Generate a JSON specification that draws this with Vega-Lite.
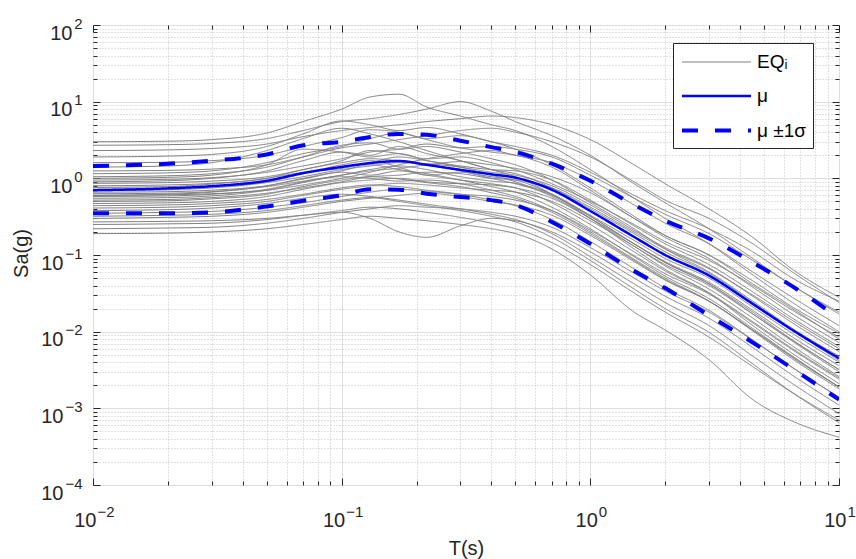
{
"$schema": "https://vega.github.io/schema/vega-lite/v6.json",
"width": 746, "height": 460,
"autosize": {"type": "none"},
"padding": {"left": 93, "top": 25, "right": 17, "bottom": 74},
"background": "white",
"config": {
  "view": {"stroke": "#262626", "strokeWidth": 1},
  "font": "Liberation Sans",
  "axis": {"domain": false, "labelFont": "Liberation Sans", "labelFontSize": 20, "labelColor": "#262626", "tickColor": "#262626", "titleFont": "Liberation Sans", "titleFontSize": 20, "titleFontWeight": "normal", "titleColor": "#262626", "labelFlush": false, "labelOverlap": false, "labelBound": false}
},
"datasets": {
"eq": [
{"c":1,"t":0.01,"v":3.0},{"c":1,"t":0.02,"v":3.05},{"c":1,"t":0.03,"v":3.2},{"c":1,"t":0.05,"v":3.9},{"c":1,"t":0.07,"v":5.5},{"c":1,"t":0.1,"v":8.0},{"c":1,"t":0.13,"v":11.5},{"c":1,"t":0.17,"v":12.5},{"c":1,"t":0.22,"v":8.5},{"c":1,"t":0.3,"v":6.5},{"c":1,"t":0.4,"v":5.0},{"c":1,"t":0.5,"v":4.2},{"c":1,"t":0.7,"v":2.6},{"c":1,"t":1,"v":1.3},{"c":1,"t":1.5,"v":0.55},{"c":1,"t":2,"v":0.30},{"c":1,"t":3,"v":0.14},{"c":1,"t":4.5,"v":0.055},{"c":1,"t":6.5,"v":0.024},{"c":1,"t":10,"v":0.010},
{"c":2,"t":0.01,"v":2.7},{"c":2,"t":0.02,"v":2.75},{"c":2,"t":0.03,"v":2.85},{"c":2,"t":0.05,"v":3.3},{"c":2,"t":0.07,"v":4.2},{"c":2,"t":0.1,"v":5.5},{"c":2,"t":0.13,"v":6.0},{"c":2,"t":0.17,"v":6.8},{"c":2,"t":0.22,"v":8.0},{"c":2,"t":0.3,"v":10.0},{"c":2,"t":0.4,"v":7.5},{"c":2,"t":0.5,"v":5.5},{"c":2,"t":0.7,"v":3.6},{"c":2,"t":1,"v":2.0},{"c":2,"t":1.5,"v":0.85},{"c":2,"t":2,"v":0.48},{"c":2,"t":3,"v":0.22},{"c":2,"t":4.5,"v":0.09},{"c":2,"t":6.5,"v":0.04},{"c":2,"t":10,"v":0.018},
{"c":3,"t":0.01,"v":2.3},{"c":3,"t":0.02,"v":2.35},{"c":3,"t":0.03,"v":2.45},{"c":3,"t":0.05,"v":2.8},{"c":3,"t":0.07,"v":3.5},{"c":3,"t":0.1,"v":4.2},{"c":3,"t":0.13,"v":4.6},{"c":3,"t":0.17,"v":5.0},{"c":3,"t":0.22,"v":5.5},{"c":3,"t":0.3,"v":6.0},{"c":3,"t":0.4,"v":6.5},{"c":3,"t":0.5,"v":6.2},{"c":3,"t":0.7,"v":5.0},{"c":3,"t":1,"v":3.2},{"c":3,"t":1.5,"v":1.5},{"c":3,"t":2,"v":0.85},{"c":3,"t":3,"v":0.40},{"c":3,"t":4.5,"v":0.17},{"c":3,"t":6.5,"v":0.065},{"c":3,"t":10,"v":0.028},
{"c":4,"t":0.01,"v":1.9},{"c":4,"t":0.02,"v":1.95},{"c":4,"t":0.03,"v":2.05},{"c":4,"t":0.05,"v":2.6},{"c":4,"t":0.07,"v":3.8},{"c":4,"t":0.1,"v":5.6},{"c":4,"t":0.13,"v":5.0},{"c":4,"t":0.17,"v":4.2},{"c":4,"t":0.22,"v":4.6},{"c":4,"t":0.3,"v":3.8},{"c":4,"t":0.4,"v":3.0},{"c":4,"t":0.5,"v":2.6},{"c":4,"t":0.7,"v":2.0},{"c":4,"t":1,"v":1.2},{"c":4,"t":1.5,"v":0.60},{"c":4,"t":2,"v":0.38},{"c":4,"t":3,"v":0.22},{"c":4,"t":4.5,"v":0.11},{"c":4,"t":6.5,"v":0.05},{"c":4,"t":10,"v":0.025},
{"c":5,"t":0.01,"v":1.6},{"c":5,"t":0.02,"v":1.62},{"c":5,"t":0.03,"v":1.7},{"c":5,"t":0.05,"v":2.0},{"c":5,"t":0.07,"v":2.6},{"c":5,"t":0.1,"v":3.4},{"c":5,"t":0.13,"v":4.3},{"c":5,"t":0.17,"v":4.0},{"c":5,"t":0.22,"v":3.3},{"c":5,"t":0.3,"v":3.6},{"c":5,"t":0.4,"v":3.0},{"c":5,"t":0.5,"v":2.4},{"c":5,"t":0.7,"v":1.5},{"c":5,"t":1,"v":0.75},{"c":5,"t":1.5,"v":0.32},{"c":5,"t":2,"v":0.18},{"c":5,"t":3,"v":0.10},{"c":5,"t":4.5,"v":0.042},{"c":5,"t":6.5,"v":0.02},{"c":5,"t":10,"v":0.008},
{"c":6,"t":0.01,"v":1.4},{"c":6,"t":0.02,"v":1.45},{"c":6,"t":0.03,"v":1.6},{"c":6,"t":0.05,"v":2.3},{"c":6,"t":0.07,"v":3.3},{"c":6,"t":0.1,"v":4.5},{"c":6,"t":0.13,"v":3.8},{"c":6,"t":0.17,"v":3.0},{"c":6,"t":0.22,"v":2.3},{"c":6,"t":0.3,"v":1.7},{"c":6,"t":0.4,"v":1.3},{"c":6,"t":0.5,"v":1.05},{"c":6,"t":0.7,"v":0.62},{"c":6,"t":1,"v":0.30},{"c":6,"t":1.5,"v":0.12},{"c":6,"t":2,"v":0.065},{"c":6,"t":3,"v":0.032},{"c":6,"t":4.5,"v":0.012},{"c":6,"t":6.5,"v":0.0052},{"c":6,"t":10,"v":0.0021},
{"c":7,"t":0.01,"v":1.25},{"c":7,"t":0.02,"v":1.27},{"c":7,"t":0.03,"v":1.32},{"c":7,"t":0.05,"v":1.5},{"c":7,"t":0.07,"v":1.9},{"c":7,"t":0.1,"v":2.5},{"c":7,"t":0.13,"v":2.8},{"c":7,"t":0.17,"v":3.2},{"c":7,"t":0.22,"v":3.6},{"c":7,"t":0.3,"v":4.2},{"c":7,"t":0.4,"v":4.5},{"c":7,"t":0.5,"v":4.0},{"c":7,"t":0.7,"v":3.0},{"c":7,"t":1,"v":1.9},{"c":7,"t":1.5,"v":0.9},{"c":7,"t":2,"v":0.52},{"c":7,"t":3,"v":0.30},{"c":7,"t":4.5,"v":0.14},{"c":7,"t":6.5,"v":0.06},{"c":7,"t":10,"v":0.024},
{"c":8,"t":0.01,"v":1.15},{"c":8,"t":0.02,"v":1.18},{"c":8,"t":0.03,"v":1.25},{"c":8,"t":0.05,"v":1.6},{"c":8,"t":0.07,"v":2.1},{"c":8,"t":0.1,"v":2.6},{"c":8,"t":0.13,"v":3.3},{"c":8,"t":0.17,"v":3.9},{"c":8,"t":0.22,"v":3.2},{"c":8,"t":0.3,"v":2.5},{"c":8,"t":0.4,"v":2.2},{"c":8,"t":0.5,"v":2.0},{"c":8,"t":0.7,"v":1.4},{"c":8,"t":1,"v":0.7},{"c":8,"t":1.5,"v":0.30},{"c":8,"t":2,"v":0.17},{"c":8,"t":3,"v":0.09},{"c":8,"t":4.5,"v":0.038},{"c":8,"t":6.5,"v":0.017},{"c":8,"t":10,"v":0.0072},
{"c":9,"t":0.01,"v":1.05},{"c":9,"t":0.02,"v":1.08},{"c":9,"t":0.03,"v":1.15},{"c":9,"t":0.05,"v":1.4},{"c":9,"t":0.07,"v":1.9},{"c":9,"t":0.1,"v":2.7},{"c":9,"t":0.13,"v":2.9},{"c":9,"t":0.17,"v":2.4},{"c":9,"t":0.22,"v":2.6},{"c":9,"t":0.3,"v":2.2},{"c":9,"t":0.4,"v":1.8},{"c":9,"t":0.5,"v":1.5},{"c":9,"t":0.7,"v":0.95},{"c":9,"t":1,"v":0.48},{"c":9,"t":1.5,"v":0.22},{"c":9,"t":2,"v":0.12},{"c":9,"t":3,"v":0.060},{"c":9,"t":4.5,"v":0.025},{"c":9,"t":6.5,"v":0.011},{"c":9,"t":10,"v":0.0048},
{"c":10,"t":0.01,"v":0.95},{"c":10,"t":0.02,"v":0.97},{"c":10,"t":0.03,"v":1.02},{"c":10,"t":0.05,"v":1.2},{"c":10,"t":0.07,"v":1.45},{"c":10,"t":0.1,"v":1.8},{"c":10,"t":0.13,"v":2.2},{"c":10,"t":0.17,"v":2.4},{"c":10,"t":0.22,"v":2.8},{"c":10,"t":0.3,"v":2.5},{"c":10,"t":0.4,"v":2.6},{"c":10,"t":0.5,"v":2.4},{"c":10,"t":0.7,"v":1.9},{"c":10,"t":1,"v":1.1},{"c":10,"t":1.5,"v":0.55},{"c":10,"t":2,"v":0.34},{"c":10,"t":3,"v":0.19},{"c":10,"t":4.5,"v":0.085},{"c":10,"t":6.5,"v":0.04},{"c":10,"t":10,"v":0.017},
{"c":11,"t":0.01,"v":0.9},{"c":11,"t":0.02,"v":0.93},{"c":11,"t":0.03,"v":1.0},{"c":11,"t":0.05,"v":1.25},{"c":11,"t":0.07,"v":1.7},{"c":11,"t":0.1,"v":2.2},{"c":11,"t":0.13,"v":2.0},{"c":11,"t":0.17,"v":2.6},{"c":11,"t":0.22,"v":2.1},{"c":11,"t":0.3,"v":1.7},{"c":11,"t":0.4,"v":1.3},{"c":11,"t":0.5,"v":1.15},{"c":11,"t":0.7,"v":0.75},{"c":11,"t":1,"v":0.40},{"c":11,"t":1.5,"v":0.19},{"c":11,"t":2,"v":0.11},{"c":11,"t":3,"v":0.058},{"c":11,"t":4.5,"v":0.024},{"c":11,"t":6.5,"v":0.0105},{"c":11,"t":10,"v":0.0042},
{"c":12,"t":0.01,"v":0.86},{"c":12,"t":0.02,"v":0.88},{"c":12,"t":0.03,"v":0.92},{"c":12,"t":0.05,"v":1.05},{"c":12,"t":0.07,"v":1.3},{"c":12,"t":0.1,"v":1.7},{"c":12,"t":0.13,"v":2.3},{"c":12,"t":0.17,"v":2.1},{"c":12,"t":0.22,"v":1.8},{"c":12,"t":0.3,"v":1.9},{"c":12,"t":0.4,"v":1.6},{"c":12,"t":0.5,"v":1.3},{"c":12,"t":0.7,"v":0.85},{"c":12,"t":1,"v":0.50},{"c":12,"t":1.5,"v":0.25},{"c":12,"t":2,"v":0.15},{"c":12,"t":3,"v":0.085},{"c":12,"t":4.5,"v":0.040},{"c":12,"t":6.5,"v":0.019},{"c":12,"t":10,"v":0.0085},
{"c":13,"t":0.01,"v":0.8},{"c":13,"t":0.02,"v":0.82},{"c":13,"t":0.03,"v":0.86},{"c":13,"t":0.05,"v":1.0},{"c":13,"t":0.07,"v":1.3},{"c":13,"t":0.1,"v":1.6},{"c":13,"t":0.13,"v":1.8},{"c":13,"t":0.17,"v":1.7},{"c":13,"t":0.22,"v":1.5},{"c":13,"t":0.3,"v":1.25},{"c":13,"t":0.4,"v":1.0},{"c":13,"t":0.5,"v":0.85},{"c":13,"t":0.7,"v":0.6},{"c":13,"t":1,"v":0.32},{"c":13,"t":1.5,"v":0.14},{"c":13,"t":2,"v":0.08},{"c":13,"t":3,"v":0.042},{"c":13,"t":4.5,"v":0.018},{"c":13,"t":6.5,"v":0.0078},{"c":13,"t":10,"v":0.0032},
{"c":14,"t":0.01,"v":0.76},{"c":14,"t":0.02,"v":0.78},{"c":14,"t":0.03,"v":0.84},{"c":14,"t":0.05,"v":1.0},{"c":14,"t":0.07,"v":1.2},{"c":14,"t":0.1,"v":1.35},{"c":14,"t":0.13,"v":1.6},{"c":14,"t":0.17,"v":1.9},{"c":14,"t":0.22,"v":1.7},{"c":14,"t":0.3,"v":1.45},{"c":14,"t":0.4,"v":1.3},{"c":14,"t":0.5,"v":1.25},{"c":14,"t":0.7,"v":0.95},{"c":14,"t":1,"v":0.52},{"c":14,"t":1.5,"v":0.24},{"c":14,"t":2,"v":0.14},{"c":14,"t":3,"v":0.075},{"c":14,"t":4.5,"v":0.033},{"c":14,"t":6.5,"v":0.015},{"c":14,"t":10,"v":0.0064},
{"c":15,"t":0.01,"v":0.72},{"c":15,"t":0.02,"v":0.74},{"c":15,"t":0.03,"v":0.78},{"c":15,"t":0.05,"v":0.9},{"c":15,"t":0.07,"v":1.15},{"c":15,"t":0.1,"v":1.5},{"c":15,"t":0.13,"v":1.7},{"c":15,"t":0.17,"v":1.4},{"c":15,"t":0.22,"v":1.1},{"c":15,"t":0.3,"v":1.2},{"c":15,"t":0.4,"v":1.05},{"c":15,"t":0.5,"v":0.95},{"c":15,"t":0.7,"v":0.62},{"c":15,"t":1,"v":0.32},{"c":15,"t":1.5,"v":0.14},{"c":15,"t":2,"v":0.08},{"c":15,"t":3,"v":0.042},{"c":15,"t":4.5,"v":0.017},{"c":15,"t":6.5,"v":0.0075},{"c":15,"t":10,"v":0.003},
{"c":16,"t":0.01,"v":0.69},{"c":16,"t":0.02,"v":0.71},{"c":16,"t":0.03,"v":0.75},{"c":16,"t":0.05,"v":0.88},{"c":16,"t":0.07,"v":1.05},{"c":16,"t":0.1,"v":1.3},{"c":16,"t":0.13,"v":1.45},{"c":16,"t":0.17,"v":1.6},{"c":16,"t":0.22,"v":1.55},{"c":16,"t":0.3,"v":1.4},{"c":16,"t":0.4,"v":1.2},{"c":16,"t":0.5,"v":1.1},{"c":16,"t":0.7,"v":0.80},{"c":16,"t":1,"v":0.45},{"c":16,"t":1.5,"v":0.21},{"c":16,"t":2,"v":0.125},{"c":16,"t":3,"v":0.068},{"c":16,"t":4.5,"v":0.029},{"c":16,"t":6.5,"v":0.013},{"c":16,"t":10,"v":0.0055},
{"c":17,"t":0.01,"v":0.66},{"c":17,"t":0.02,"v":0.67},{"c":17,"t":0.03,"v":0.70},{"c":17,"t":0.05,"v":0.80},{"c":17,"t":0.07,"v":0.98},{"c":17,"t":0.1,"v":1.25},{"c":17,"t":0.13,"v":1.5},{"c":17,"t":0.17,"v":1.3},{"c":17,"t":0.22,"v":1.15},{"c":17,"t":0.3,"v":0.95},{"c":17,"t":0.4,"v":0.78},{"c":17,"t":0.5,"v":0.66},{"c":17,"t":0.7,"v":0.42},{"c":17,"t":1,"v":0.22},{"c":17,"t":1.5,"v":0.095},{"c":17,"t":2,"v":0.053},{"c":17,"t":3,"v":0.027},{"c":17,"t":4.5,"v":0.011},{"c":17,"t":6.5,"v":0.0048},{"c":17,"t":10,"v":0.0019},
{"c":18,"t":0.01,"v":0.63},{"c":18,"t":0.02,"v":0.64},{"c":18,"t":0.03,"v":0.67},{"c":18,"t":0.05,"v":0.78},{"c":18,"t":0.07,"v":0.92},{"c":18,"t":0.1,"v":1.1},{"c":18,"t":0.13,"v":1.25},{"c":18,"t":0.17,"v":1.35},{"c":18,"t":0.22,"v":1.5},{"c":18,"t":0.3,"v":1.65},{"c":18,"t":0.4,"v":1.5},{"c":18,"t":0.5,"v":1.35},{"c":18,"t":0.7,"v":1.05},{"c":18,"t":1,"v":0.65},{"c":18,"t":1.5,"v":0.30},{"c":18,"t":2,"v":0.18},{"c":18,"t":3,"v":0.10},{"c":18,"t":4.5,"v":0.046},{"c":18,"t":6.5,"v":0.021},{"c":18,"t":10,"v":0.0095},
{"c":19,"t":0.01,"v":0.6},{"c":19,"t":0.02,"v":0.62},{"c":19,"t":0.03,"v":0.66},{"c":19,"t":0.05,"v":0.8},{"c":19,"t":0.07,"v":1.0},{"c":19,"t":0.1,"v":1.2},{"c":19,"t":0.13,"v":1.1},{"c":19,"t":0.17,"v":1.25},{"c":19,"t":0.22,"v":1.1},{"c":19,"t":0.3,"v":0.95},{"c":19,"t":0.4,"v":0.85},{"c":19,"t":0.5,"v":0.75},{"c":19,"t":0.7,"v":0.48},{"c":19,"t":1,"v":0.25},{"c":19,"t":1.5,"v":0.11},{"c":19,"t":2,"v":0.062},{"c":19,"t":3,"v":0.032},{"c":19,"t":4.5,"v":0.0135},{"c":19,"t":6.5,"v":0.006},{"c":19,"t":10,"v":0.0025},
{"c":20,"t":0.01,"v":0.58},{"c":20,"t":0.02,"v":0.59},{"c":20,"t":0.03,"v":0.62},{"c":20,"t":0.05,"v":0.72},{"c":20,"t":0.07,"v":0.90},{"c":20,"t":0.1,"v":1.1},{"c":20,"t":0.13,"v":1.3},{"c":20,"t":0.17,"v":1.45},{"c":20,"t":0.22,"v":1.3},{"c":20,"t":0.3,"v":1.05},{"c":20,"t":0.4,"v":0.92},{"c":20,"t":0.5,"v":0.86},{"c":20,"t":0.7,"v":0.62},{"c":20,"t":1,"v":0.33},{"c":20,"t":1.5,"v":0.155},{"c":20,"t":2,"v":0.09},{"c":20,"t":3,"v":0.05},{"c":20,"t":4.5,"v":0.021},{"c":20,"t":6.5,"v":0.0095},{"c":20,"t":10,"v":0.004},
{"c":21,"t":0.01,"v":0.55},{"c":21,"t":0.02,"v":0.56},{"c":21,"t":0.03,"v":0.59},{"c":21,"t":0.05,"v":0.7},{"c":21,"t":0.07,"v":0.88},{"c":21,"t":0.1,"v":1.05},{"c":21,"t":0.13,"v":1.0},{"c":21,"t":0.17,"v":0.92},{"c":21,"t":0.22,"v":0.95},{"c":21,"t":0.3,"v":0.85},{"c":21,"t":0.4,"v":0.70},{"c":21,"t":0.5,"v":0.58},{"c":21,"t":0.7,"v":0.38},{"c":21,"t":1,"v":0.2},{"c":21,"t":1.5,"v":0.088},{"c":21,"t":2,"v":0.05},{"c":21,"t":3,"v":0.025},{"c":21,"t":4.5,"v":0.0102},{"c":21,"t":6.5,"v":0.0044},{"c":21,"t":10,"v":0.0018},
{"c":22,"t":0.01,"v":0.52},{"c":22,"t":0.02,"v":0.53},{"c":22,"t":0.03,"v":0.56},{"c":22,"t":0.05,"v":0.64},{"c":22,"t":0.07,"v":0.75},{"c":22,"t":0.1,"v":0.90},{"c":22,"t":0.13,"v":1.05},{"c":22,"t":0.17,"v":1.1},{"c":22,"t":0.22,"v":1.2},{"c":22,"t":0.3,"v":1.15},{"c":22,"t":0.4,"v":1.0},{"c":22,"t":0.5,"v":0.95},{"c":22,"t":0.7,"v":0.75},{"c":22,"t":1,"v":0.42},{"c":22,"t":1.5,"v":0.20},{"c":22,"t":2,"v":0.12},{"c":22,"t":3,"v":0.066},{"c":22,"t":4.5,"v":0.030},{"c":22,"t":6.5,"v":0.014},{"c":22,"t":10,"v":0.006},
{"c":23,"t":0.01,"v":0.5},{"c":23,"t":0.02,"v":0.51},{"c":23,"t":0.03,"v":0.54},{"c":23,"t":0.05,"v":0.62},{"c":23,"t":0.07,"v":0.78},{"c":23,"t":0.1,"v":0.95},{"c":23,"t":0.13,"v":1.05},{"c":23,"t":0.17,"v":0.98},{"c":23,"t":0.22,"v":0.88},{"c":23,"t":0.3,"v":0.78},{"c":23,"t":0.4,"v":0.65},{"c":23,"t":0.5,"v":0.55},{"c":23,"t":0.7,"v":0.36},{"c":23,"t":1,"v":0.19},{"c":23,"t":1.5,"v":0.085},{"c":23,"t":2,"v":0.048},{"c":23,"t":3,"v":0.025},{"c":23,"t":4.5,"v":0.0105},{"c":23,"t":6.5,"v":0.0046},{"c":23,"t":10,"v":0.0019},
{"c":24,"t":0.01,"v":0.47},{"c":24,"t":0.02,"v":0.48},{"c":24,"t":0.03,"v":0.50},{"c":24,"t":0.05,"v":0.58},{"c":24,"t":0.07,"v":0.72},{"c":24,"t":0.1,"v":0.88},{"c":24,"t":0.13,"v":0.95},{"c":24,"t":0.17,"v":1.0},{"c":24,"t":0.22,"v":0.90},{"c":24,"t":0.3,"v":0.85},{"c":24,"t":0.4,"v":0.82},{"c":24,"t":0.5,"v":0.75},{"c":24,"t":0.7,"v":0.55},{"c":24,"t":1,"v":0.30},{"c":24,"t":1.5,"v":0.14},{"c":24,"t":2,"v":0.082},{"c":24,"t":3,"v":0.044},{"c":24,"t":4.5,"v":0.019},{"c":24,"t":6.5,"v":0.0085},{"c":24,"t":10,"v":0.0036},
{"c":25,"t":0.01,"v":0.44},{"c":25,"t":0.02,"v":0.45},{"c":25,"t":0.03,"v":0.47},{"c":25,"t":0.05,"v":0.53},{"c":25,"t":0.07,"v":0.62},{"c":25,"t":0.1,"v":0.75},{"c":25,"t":0.13,"v":0.82},{"c":25,"t":0.17,"v":0.78},{"c":25,"t":0.22,"v":0.70},{"c":25,"t":0.3,"v":0.62},{"c":25,"t":0.4,"v":0.52},{"c":25,"t":0.5,"v":0.44},{"c":25,"t":0.7,"v":0.29},{"c":25,"t":1,"v":0.15},{"c":25,"t":1.5,"v":0.066},{"c":25,"t":2,"v":0.037},{"c":25,"t":3,"v":0.019},{"c":25,"t":4.5,"v":0.0078},{"c":25,"t":6.5,"v":0.0034},{"c":25,"t":10,"v":0.0014},
{"c":26,"t":0.01,"v":0.41},{"c":26,"t":0.02,"v":0.42},{"c":26,"t":0.03,"v":0.44},{"c":26,"t":0.05,"v":0.50},{"c":26,"t":0.07,"v":0.60},{"c":26,"t":0.1,"v":0.72},{"c":26,"t":0.13,"v":0.80},{"c":26,"t":0.17,"v":0.86},{"c":26,"t":0.22,"v":0.82},{"c":26,"t":0.3,"v":0.75},{"c":26,"t":0.4,"v":0.70},{"c":26,"t":0.5,"v":0.66},{"c":26,"t":0.7,"v":0.50},{"c":26,"t":1,"v":0.28},{"c":26,"t":1.5,"v":0.13},{"c":26,"t":2,"v":0.075},{"c":26,"t":3,"v":0.040},{"c":26,"t":4.5,"v":0.017},{"c":26,"t":6.5,"v":0.0077},{"c":26,"t":10,"v":0.0032},
{"c":27,"t":0.01,"v":0.38},{"c":27,"t":0.02,"v":0.39},{"c":27,"t":0.03,"v":0.41},{"c":27,"t":0.05,"v":0.47},{"c":27,"t":0.07,"v":0.55},{"c":27,"t":0.1,"v":0.62},{"c":27,"t":0.13,"v":0.58},{"c":27,"t":0.17,"v":0.52},{"c":27,"t":0.22,"v":0.46},{"c":27,"t":0.3,"v":0.40},{"c":27,"t":0.4,"v":0.34},{"c":27,"t":0.5,"v":0.29},{"c":27,"t":0.7,"v":0.19},{"c":27,"t":1,"v":0.095},{"c":27,"t":1.5,"v":0.042},{"c":27,"t":2,"v":0.024},{"c":27,"t":3,"v":0.012},{"c":27,"t":4.5,"v":0.0048},{"c":27,"t":6.5,"v":0.0021},{"c":27,"t":10,"v":0.00085},
{"c":28,"t":0.01,"v":0.35},{"c":28,"t":0.02,"v":0.36},{"c":28,"t":0.03,"v":0.37},{"c":28,"t":0.05,"v":0.42},{"c":28,"t":0.07,"v":0.48},{"c":28,"t":0.1,"v":0.58},{"c":28,"t":0.13,"v":0.66},{"c":28,"t":0.17,"v":0.72},{"c":28,"t":0.22,"v":0.68},{"c":28,"t":0.3,"v":0.62},{"c":28,"t":0.4,"v":0.58},{"c":28,"t":0.5,"v":0.52},{"c":28,"t":0.7,"v":0.38},{"c":28,"t":1,"v":0.21},{"c":28,"t":1.5,"v":0.098},{"c":28,"t":2,"v":0.057},{"c":28,"t":3,"v":0.031},{"c":28,"t":4.5,"v":0.013},{"c":28,"t":6.5,"v":0.0058},{"c":28,"t":10,"v":0.0024},
{"c":29,"t":0.01,"v":0.32},{"c":29,"t":0.02,"v":0.33},{"c":29,"t":0.03,"v":0.34},{"c":29,"t":0.05,"v":0.38},{"c":29,"t":0.07,"v":0.44},{"c":29,"t":0.1,"v":0.52},{"c":29,"t":0.13,"v":0.56},{"c":29,"t":0.17,"v":0.50},{"c":29,"t":0.22,"v":0.44},{"c":29,"t":0.3,"v":0.38},{"c":29,"t":0.4,"v":0.32},{"c":29,"t":0.5,"v":0.27},{"c":29,"t":0.7,"v":0.17},{"c":29,"t":1,"v":0.085},{"c":29,"t":1.5,"v":0.036},{"c":29,"t":2,"v":0.020},{"c":29,"t":3,"v":0.0098},{"c":29,"t":4.5,"v":0.0038},{"c":29,"t":6.5,"v":0.0016},{"c":29,"t":10,"v":0.00065},
{"c":30,"t":0.01,"v":0.30},{"c":30,"t":0.02,"v":0.31},{"c":30,"t":0.03,"v":0.32},{"c":30,"t":0.05,"v":0.36},{"c":30,"t":0.07,"v":0.42},{"c":30,"t":0.1,"v":0.50},{"c":30,"t":0.13,"v":0.55},{"c":30,"t":0.17,"v":0.60},{"c":30,"t":0.22,"v":0.64},{"c":30,"t":0.3,"v":0.58},{"c":30,"t":0.4,"v":0.50},{"c":30,"t":0.5,"v":0.45},{"c":30,"t":0.7,"v":0.33},{"c":30,"t":1,"v":0.18},{"c":30,"t":1.5,"v":0.082},{"c":30,"t":2,"v":0.047},{"c":30,"t":3,"v":0.025},{"c":30,"t":4.5,"v":0.0105},{"c":30,"t":6.5,"v":0.0047},{"c":30,"t":10,"v":0.0019},
{"c":31,"t":0.01,"v":0.27},{"c":31,"t":0.02,"v":0.275},{"c":31,"t":0.03,"v":0.28},{"c":31,"t":0.05,"v":0.30},{"c":31,"t":0.07,"v":0.33},{"c":31,"t":0.1,"v":0.36},{"c":31,"t":0.13,"v":0.30},{"c":31,"t":0.17,"v":0.20},{"c":31,"t":0.22,"v":0.17},{"c":31,"t":0.3,"v":0.24},{"c":31,"t":0.4,"v":0.30},{"c":31,"t":0.5,"v":0.28},{"c":31,"t":0.7,"v":0.20},{"c":31,"t":1,"v":0.11},{"c":31,"t":1.5,"v":0.050},{"c":31,"t":2,"v":0.029},{"c":31,"t":3,"v":0.015},{"c":31,"t":4.5,"v":0.0062},{"c":31,"t":6.5,"v":0.0027},{"c":31,"t":10,"v":0.0011},
{"c":32,"t":0.01,"v":0.25},{"c":32,"t":0.02,"v":0.255},{"c":32,"t":0.03,"v":0.26},{"c":32,"t":0.05,"v":0.29},{"c":32,"t":0.07,"v":0.33},{"c":32,"t":0.1,"v":0.38},{"c":32,"t":0.13,"v":0.42},{"c":32,"t":0.17,"v":0.40},{"c":32,"t":0.22,"v":0.36},{"c":32,"t":0.3,"v":0.31},{"c":32,"t":0.4,"v":0.26},{"c":32,"t":0.5,"v":0.22},{"c":32,"t":0.7,"v":0.145},{"c":32,"t":1,"v":0.075},{"c":32,"t":1.5,"v":0.032},{"c":32,"t":2,"v":0.018},{"c":32,"t":3,"v":0.0085},{"c":32,"t":4.5,"v":0.0035},{"c":32,"t":6.5,"v":0.0016},{"c":32,"t":10,"v":0.0007},
{"c":33,"t":0.01,"v":0.22},{"c":33,"t":0.02,"v":0.225},{"c":33,"t":0.03,"v":0.23},{"c":33,"t":0.05,"v":0.26},{"c":33,"t":0.07,"v":0.30},{"c":33,"t":0.1,"v":0.36},{"c":33,"t":0.13,"v":0.40},{"c":33,"t":0.17,"v":0.44},{"c":33,"t":0.22,"v":0.42},{"c":33,"t":0.3,"v":0.40},{"c":33,"t":0.4,"v":0.36},{"c":33,"t":0.5,"v":0.32},{"c":33,"t":0.7,"v":0.23},{"c":33,"t":1,"v":0.125},{"c":33,"t":1.5,"v":0.058},{"c":33,"t":2,"v":0.034},{"c":33,"t":3,"v":0.018},{"c":33,"t":4.5,"v":0.0077},{"c":33,"t":6.5,"v":0.0034},{"c":33,"t":10,"v":0.0014},
{"c":34,"t":0.01,"v":0.19},{"c":34,"t":0.02,"v":0.193},{"c":34,"t":0.03,"v":0.20},{"c":34,"t":0.05,"v":0.22},{"c":34,"t":0.07,"v":0.25},{"c":34,"t":0.1,"v":0.29},{"c":34,"t":0.13,"v":0.32},{"c":34,"t":0.17,"v":0.30},{"c":34,"t":0.22,"v":0.28},{"c":34,"t":0.3,"v":0.25},{"c":34,"t":0.4,"v":0.22},{"c":34,"t":0.5,"v":0.19},{"c":34,"t":0.7,"v":0.12},{"c":34,"t":1,"v":0.055},{"c":34,"t":1.5,"v":0.018},{"c":34,"t":2,"v":0.0105},{"c":34,"t":3,"v":0.0043},{"c":34,"t":4.5,"v":0.0013},{"c":34,"t":6.5,"v":0.00068},{"c":34,"t":10,"v":0.00042},
{"c":35,"t":0.01,"v":1.0},{"c":35,"t":0.02,"v":1.03},{"c":35,"t":0.03,"v":1.1},{"c":35,"t":0.05,"v":1.5},{"c":35,"t":0.07,"v":2.4},{"c":35,"t":0.1,"v":2.2},{"c":35,"t":0.13,"v":1.9},{"c":35,"t":0.17,"v":2.1},{"c":35,"t":0.22,"v":1.7},{"c":35,"t":0.3,"v":1.4},{"c":35,"t":0.4,"v":1.1},{"c":35,"t":0.5,"v":0.9},{"c":35,"t":0.7,"v":0.58},{"c":35,"t":1,"v":0.30},{"c":35,"t":1.5,"v":0.13},{"c":35,"t":2,"v":0.072},{"c":35,"t":3,"v":0.036},{"c":35,"t":4.5,"v":0.015},{"c":35,"t":6.5,"v":0.0065},{"c":35,"t":10,"v":0.0026},
{"c":36,"t":0.01,"v":0.6},{"c":36,"t":0.02,"v":0.61},{"c":36,"t":0.03,"v":0.63},{"c":36,"t":0.05,"v":0.7},{"c":36,"t":0.07,"v":0.82},{"c":36,"t":0.1,"v":1.0},{"c":36,"t":0.13,"v":1.2},{"c":36,"t":0.17,"v":1.5},{"c":36,"t":0.22,"v":1.8},{"c":36,"t":0.3,"v":2.1},{"c":36,"t":0.4,"v":2.3},{"c":36,"t":0.5,"v":2.0},{"c":36,"t":0.7,"v":1.6},{"c":36,"t":1,"v":0.95},{"c":36,"t":1.5,"v":0.45},{"c":36,"t":2,"v":0.26},{"c":36,"t":3,"v":0.14},{"c":36,"t":4.5,"v":0.06},{"c":36,"t":6.5,"v":0.028},{"c":36,"t":10,"v":0.012}
],
"mu": [
{"t":0.01,"v":0.70},{"t":0.02,"v":0.74},{"t":0.03,"v":0.79},{"t":0.05,"v":0.93},{"t":0.07,"v":1.17},{"t":0.1,"v":1.41},{"t":0.13,"v":1.58},{"t":0.17,"v":1.68},{"t":0.22,"v":1.50},{"t":0.3,"v":1.29},{"t":0.4,"v":1.13},{"t":0.5,"v":1.02},{"t":0.7,"v":0.71},{"t":1,"v":0.375},{"t":1.5,"v":0.172},{"t":2,"v":0.10},{"t":3,"v":0.054},{"t":4.5,"v":0.023},{"t":6.5,"v":0.0105},{"t":10,"v":0.0045}
],
"up": [
{"t":0.01,"v":1.45},{"t":0.02,"v":1.55},{"t":0.03,"v":1.7},{"t":0.05,"v":2.05},{"t":0.07,"v":2.7},{"t":0.1,"v":3.0},{"t":0.13,"v":3.45},{"t":0.17,"v":3.8},{"t":0.22,"v":3.7},{"t":0.3,"v":3.1},{"t":0.4,"v":2.55},{"t":0.5,"v":2.2},{"t":0.7,"v":1.55},{"t":1,"v":0.93},{"t":1.5,"v":0.45},{"t":2,"v":0.28},{"t":3,"v":0.165},{"t":4.5,"v":0.08},{"t":6.5,"v":0.039},{"t":10,"v":0.015}
],
"lo": [
{"t":0.01,"v":0.35},{"t":0.02,"v":0.35},{"t":0.03,"v":0.36},{"t":0.05,"v":0.43},{"t":0.07,"v":0.51},{"t":0.1,"v":0.60},{"t":0.13,"v":0.72},{"t":0.17,"v":0.71},{"t":0.22,"v":0.63},{"t":0.3,"v":0.57},{"t":0.4,"v":0.52},{"t":0.5,"v":0.45},{"t":0.7,"v":0.27},{"t":1,"v":0.14},{"t":1.5,"v":0.062},{"t":2,"v":0.037},{"t":3,"v":0.0163},{"t":4.5,"v":0.0072},{"t":6.5,"v":0.0033},{"t":10,"v":0.0013}
]
},
"layer": [
{
  "data": {"name": "eq"},
  "transform": [{"filter": "datum.c <= 18"}],
  "mark": {"type": "line", "interpolate": "monotone", "clip": true},
  "encoding": {
    "x": {"field": "t", "type": "quantitative", "scale": {"type": "log", "domain": [0.01, 10], "nice": false},
      "axis": {"orient": "bottom", "values": [0.01, 0.1, 1, 10], "grid": true, "gridColor": "#dedede", "gridWidth": 1, "tickSize": -7, "labelExpr": "'10'", "labelAlign": "right", "labelBaseline": "alphabetic", "labelPadding": 48, "labelOffset": {"condition": {"test": "datum.value < 1", "value": 3}, "value": 7}, "labelFontSize": 20, "title": "T(s)", "titleX": 373, "titleY": 69, "titleBaseline": "alphabetic", "titleAnchor": null}},
    "y": {"field": "v", "type": "quantitative", "scale": {"type": "log", "domain": [0.0001, 100], "nice": false},
      "axis": {"orient": "left", "values": [0.0001, 0.001, 0.01, 0.1, 1, 10, 100], "grid": true, "gridColor": "#dedede", "gridWidth": 1, "tickSize": -7, "labelExpr": "'10'", "labelAlign": "right", "labelBaseline": "alphabetic", "labelPadding": {"condition": {"test": "datum.value < 1", "value": 37}, "value": 28}, "labelOffset": 14, "labelFontSize": 20, "title": "Sa(g)", "titleX": -66, "titleY": 228, "titleBaseline": "alphabetic", "titleAngle": -90}},
    "detail": {"field": "c", "type": "nominal"},
    "color": {"datum": "EQᵢ", "type": "nominal", "scale": {"domain": ["EQᵢ", "μ", "μ ±1σ"], "range": ["#808080", "#0000ff", "#0000ff"]},
      "legend": {"orient": "none", "legendX": 580, "legendY": 18, "title": null, "symbolType": "M-3,0H3", "symbolSize": 529, "symbolOffset": 23, "labelOffset": 27, "labelFontSize": 19, "labelFont": "Liberation Sans", "labelColor": "#000000", "rowPadding": 11, "padding": 7, "strokeColor": "#262626", "fillColor": "#ffffff", "cornerRadius": 0}},
    "strokeDash": {"datum": "EQᵢ", "type": "nominal", "scale": {"domain": ["EQᵢ", "μ", "μ ±1σ"], "range": [[1, 0], [1, 0], [16, 17]]}, "legend": {"orient": "none", "legendX": 580, "legendY": 18, "title": null}},
    "strokeWidth": {"datum": "EQᵢ", "type": "nominal", "scale": {"domain": ["EQᵢ", "μ", "μ ±1σ"], "range": [1, 4, 4]}, "legend": {"orient": "none", "legendX": 580, "legendY": 18, "title": null}}
  }
},
{
  "data": {"name": "eq"},
  "transform": [{"filter": "datum.c > 18"}],
  "mark": {"type": "line", "interpolate": "monotone", "clip": true},
  "encoding": {
    "x": {"field": "t", "type": "quantitative",
      "axis": {"orient": "bottom", "values": [0.01, 0.1, 1, 10], "grid": false, "ticks": false, "labelExpr": "replace(toString(round(log(datum.value)/LN10)), '-', '\u2212')", "labelAlign": "left", "labelBaseline": "alphabetic", "labelPadding": 31, "labelOffset": {"condition": {"test": "datum.value < 1", "value": 4}, "value": 8}, "labelFontSize": 15, "title": null}},
    "y": {"field": "v", "type": "quantitative",
      "axis": {"orient": "left", "values": [0.0001, 0.001, 0.01, 0.1, 1, 10, 100], "grid": false, "ticks": false, "labelExpr": "replace(toString(round(log(datum.value)/LN10)), '-', '\u2212')", "labelAlign": "right", "labelBaseline": "alphabetic", "labelPadding": 11, "labelOffset": 3, "labelFontSize": 15, "title": null}},
    "detail": {"field": "c", "type": "nominal"},
    "color": {"datum": "EQᵢ", "type": "nominal"},
    "strokeDash": {"datum": "EQᵢ", "type": "nominal"},
    "strokeWidth": {"datum": "EQᵢ", "type": "nominal"}
  }
},
{
  "data": {"name": "mu"},
  "mark": {"type": "line", "interpolate": "monotone", "clip": true},
  "encoding": {
    "x": {"field": "t", "type": "quantitative", "axis": {"orient": "bottom", "values": [0.02,0.03,0.04,0.05,0.06,0.07,0.08,0.09,0.2,0.3,0.4,0.5,0.6,0.7,0.8,0.9,2,3,4,5,6,7,8,9], "labels": false, "grid": true, "gridDash": [1, 2], "gridColor": "#c4c4c4", "tickSize": -4, "title": null}},
    "y": {"field": "v", "type": "quantitative", "axis": {"orient": "left", "values": [0.0002,0.0003,0.0004,0.0005,0.0006,0.0007,0.0008,0.0009,0.002,0.003,0.004,0.005,0.006,0.007,0.008,0.009,0.02,0.03,0.04,0.05,0.06,0.07,0.08,0.09,0.2,0.3,0.4,0.5,0.6,0.7,0.8,0.9,2,3,4,5,6,7,8,9,20,30,40,50,60,70,80,90], "labels": false, "grid": true, "gridDash": [1, 2], "gridColor": "#c4c4c4", "tickSize": -4, "title": null}},
    "color": {"datum": "μ", "type": "nominal"},
    "strokeDash": {"datum": "μ", "type": "nominal"},
    "strokeWidth": {"datum": "μ", "type": "nominal"}
  }
},
{
  "data": {"name": "up"},
  "mark": {"type": "line", "interpolate": "monotone", "clip": true, "strokeCap": "butt"},
  "encoding": {
    "x": {"field": "t", "type": "quantitative", "axis": {"orient": "top", "values": [0.01, 0.1, 1, 10], "labels": false, "grid": false, "tickSize": -7, "title": null}},
    "y": {"field": "v", "type": "quantitative", "axis": {"orient": "right", "values": [0.0001, 0.001, 0.01, 0.1, 1, 10, 100], "labels": false, "grid": false, "tickSize": -7, "title": null}},
    "color": {"datum": "μ ±1σ", "type": "nominal"},
    "strokeDash": {"datum": "μ ±1σ", "type": "nominal"},
    "strokeWidth": {"datum": "μ ±1σ", "type": "nominal"}
  }
},
{
  "data": {"name": "lo"},
  "mark": {"type": "line", "interpolate": "monotone", "clip": true, "strokeCap": "butt"},
  "encoding": {
    "x": {"field": "t", "type": "quantitative", "axis": {"orient": "top", "values": [0.02,0.03,0.04,0.05,0.06,0.07,0.08,0.09,0.2,0.3,0.4,0.5,0.6,0.7,0.8,0.9,2,3,4,5,6,7,8,9], "labels": false, "grid": false, "tickSize": -4, "title": null}},
    "y": {"field": "v", "type": "quantitative", "axis": {"orient": "right", "values": [0.0002,0.0003,0.0004,0.0005,0.0006,0.0007,0.0008,0.0009,0.002,0.003,0.004,0.005,0.006,0.007,0.008,0.009,0.02,0.03,0.04,0.05,0.06,0.07,0.08,0.09,0.2,0.3,0.4,0.5,0.6,0.7,0.8,0.9,2,3,4,5,6,7,8,9,20,30,40,50,60,70,80,90], "labels": false, "grid": false, "tickSize": -4, "title": null}},
    "color": {"datum": "μ ±1σ", "type": "nominal"},
    "strokeDash": {"datum": "μ ±1σ", "type": "nominal"},
    "strokeWidth": {"datum": "μ ±1σ", "type": "nominal"}
  }
}
],
"resolve": {"axis": {"x": "independent", "y": "independent"}}
}
